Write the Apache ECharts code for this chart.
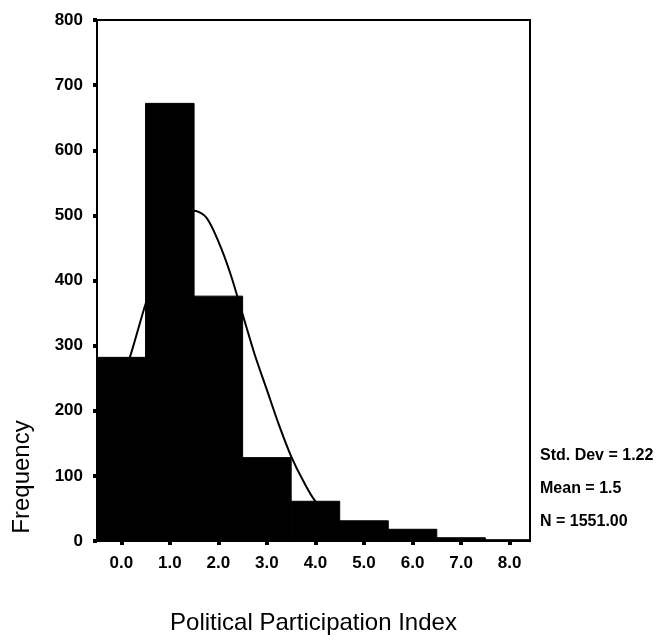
<!DOCTYPE html>
<html>
<head>
<meta charset="utf-8">
<script src="https://cdn.jsdelivr.net/npm/echarts@6/dist/echarts.min.js"></script>
<style>
  html, body { margin: 0; padding: 0; background: #fff; }
  #chart { width: 672px; height: 640px; }
</style>
</head>
<body>
<div id="chart"></div>
<script>
// histogram bins (centre of each bin, width 1)
const binCenters = [0, 1, 2, 3, 4, 5, 6, 7, 8];
const binCounts = [282, 672, 376, 128, 61, 31, 18, 5, 2];

// fitted normal curve
const curveX = [-0.5, -0.25, 0, 0.25, 0.5, 0.75, 1.0, 1.25, 1.5, 1.75, 2.0, 2.25, 2.5, 2.75, 3.0, 3.25, 3.5, 3.75, 4.0, 4.5, 5.0, 5.5, 6.0, 7.0, 8.0];
const curveY = [132, 180, 238, 300, 364, 420, 466, 497, 507, 497, 460, 410, 348, 286, 232, 178, 130, 92, 61, 24, 8, 2, 1, 0, 0];

const xTicks = [0, 1, 2, 3, 4, 5, 6, 7, 8];
const statLines = ["Std. Dev = 1.22", "Mean = 1.5", "N = 1551.00"];

const font = "'Liberation Sans', Arial, sans-serif";
const chart = echarts.init(document.getElementById("chart"));

chart.setOption({
  backgroundColor: "#fff",
  animation: false,
  grid: {
    left: 97,
    right: 142,
    top: 20,
    bottom: 99,
    show: true,
    borderColor: "#000",
    borderWidth: 2,
  },
  xAxis: {
    type: "value",
    min: -0.5,
    max: 8.42,
    name: "Political Participation Index",
    nameLocation: "middle",
    nameGap: 70,
    nameTextStyle: { fontFamily: font, fontSize: 24, color: "#000" },
    axisLine: { show: true, onZero: false, lineStyle: { color: "#000", width: 2 } },
    axisTick: {
      show: true,
      length: 4,
      customValues: xTicks,
      lineStyle: { color: "#000", width: 4 },
    },
    axisLabel: {
      customValues: xTicks,
      formatter: (v) => v.toFixed(1),
      margin: 14,
      fontFamily: font,
      fontSize: 17,
      fontWeight: "bold",
      color: "#000",
    },
    splitLine: { show: false },
  },
  yAxis: {
    type: "value",
    min: 0,
    max: 800,
    interval: 100,
    axisLine: { show: true, onZero: false, lineStyle: { color: "#000", width: 2 } },
    axisTick: { show: true, length: 4, lineStyle: { color: "#000", width: 4 } },
    axisLabel: {
      margin: 14,
      fontFamily: font,
      fontSize: 17,
      fontWeight: "bold",
      color: "#000",
    },
    splitLine: { show: false },
  },
  graphic: [
    {
      type: "text",
      x: 22,
      y: 477,
      rotation: Math.PI / 2,
      style: {
        text: "Frequency",
        fontFamily: font,
        fontSize: 24,
        fill: "#000",
        align: "center",
        verticalAlign: "middle",
      },
    },
    ...statLines.map((t, i) => ({
      type: "text",
      left: 540,
      top: 448 + i * 33,
      style: {
        text: t,
        fontFamily: font,
        fontSize: 16,
        fontWeight: "bold",
        fill: "#000",
      },
    })),
  ],
  series: [
    {
      type: "custom",
      clip: true,
      data: binCenters.map((x, i) => [x, binCounts[i]]),
      renderItem: (params, api) => {
        const x = api.value(0);
        const c = api.value(1);
        const p0 = api.coord([x - 0.5, c]);
        const p1 = api.coord([x + 0.5, 0]);
        const rect = echarts.graphic.clipRectByRect(
          { x: p0[0], y: p0[1], width: p1[0] - p0[0], height: p1[1] - p0[1] },
          {
            x: params.coordSys.x,
            y: params.coordSys.y,
            width: params.coordSys.width,
            height: params.coordSys.height,
          }
        );
        return rect && {
          type: "rect",
          shape: rect,
          style: { fill: "#000", stroke: "#000", lineWidth: 1 },
        };
      },
      z: 2,
    },
    {
      type: "line",
      data: curveX.map((x, i) => [x, curveY[i]]),
      smooth: 0.3,
      showSymbol: false,
      lineStyle: { color: "#000", width: 2 },
      z: 3,
    },
  ],
});
</script>
</body>
</html>
